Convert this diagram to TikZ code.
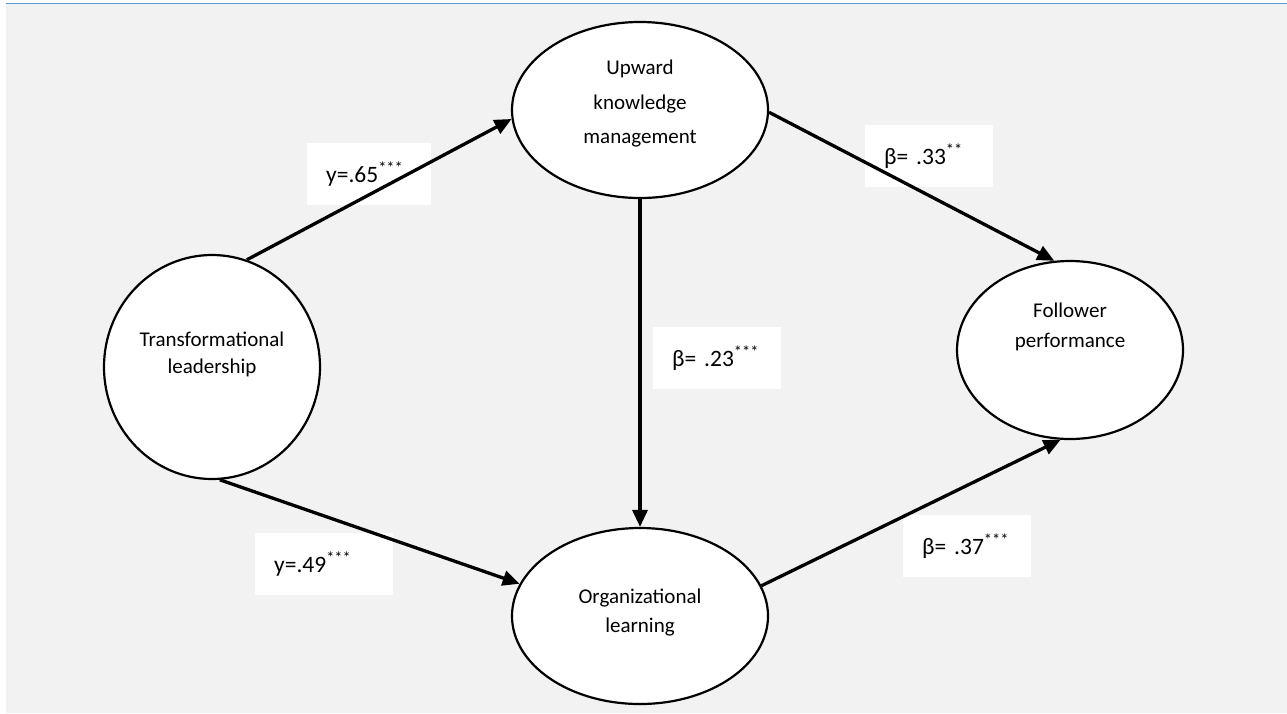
\documentclass[tikz,border=0pt]{standalone}
\usepackage{fontspec}
\setmainfont{Carlito}
\usetikzlibrary{arrows.meta,shapes.geometric}
\definecolor{bggray}{HTML}{F2F2F2}
\definecolor{rulecol}{HTML}{5B9BD5}
\begin{document}
\begin{tikzpicture}[x=1pt,y=-1pt,
  var/.style={ellipse,draw=black,line width=2.2pt,fill=white,inner sep=0pt},
  vartext/.style={align=center,inner sep=0pt,font=\fontsize{21}{28}\selectfont},
  coef/.style={fill=white,inner xsep=19pt,inner ysep=0pt,minimum height=62pt,align=left,anchor=west,font=\fontsize{23.5}{28}\selectfont},
  link/.style={line width=3.3pt,-{Triangle[length=17pt,width=15pt]}}]
\useasboundingbox (0,0) rectangle (1287,713);
\fill[white] (0,0) rectangle (1287,713);
\fill[bggray] (6,4) rectangle (1287,713);
\draw[rulecol,line width=1.2pt] (6,3.5) -- (1287,3.5);

\node[var,minimum width=216pt,minimum height=224pt,
  label={[vartext,font=\fontsize{21}{27}\selectfont,yshift=13pt]center:Transformational\\leadership}] (tl) at (212,367) {};
\node[var,minimum width=256pt,minimum height=176pt,
  label={[vartext,font=\fontsize{21}{34.5}\selectfont,yshift=6pt]center:Upward\\knowledge\\management}] (ukm) at (640,110) {};
\node[var,minimum width=256pt,minimum height=176pt,
  label={[vartext,font=\fontsize{21}{29}\selectfont,yshift=3pt]center:Organizational\\learning}] (ol) at (640,616) {};
\node[var,minimum width=226pt,minimum height=178pt,
  label={[vartext,font=\fontsize{21}{30}\selectfont,yshift=23pt]center:Follower\\performance}] (fp) at (1070,350) {};

\node[coef,text width=86pt] (g65) at (307,174) {y=.65\textsuperscript{***}};
\node[coef,text width=90pt] (b33) at (865,156) {β= .33\textsuperscript{**}};
\node[coef,text width=90pt] (b23) at (653,358) {β= .23\textsuperscript{***}};
\node[coef,text width=100pt] (g49) at (255,564) {y=.49\textsuperscript{***}};
\node[coef,text width=90pt] (b37) at (903,546) {β= .37\textsuperscript{***}};

\draw[link] (tl.72) -- (ukm.184);
\draw[link] (tl.274) -- (ol.165);
\draw[link] (ukm.south) -- (ol.north);
\draw[link] (ukm.359) -- (fp.100);
\draw[link] (ol.14) -- (fp.264);
\end{tikzpicture}
\end{document}
